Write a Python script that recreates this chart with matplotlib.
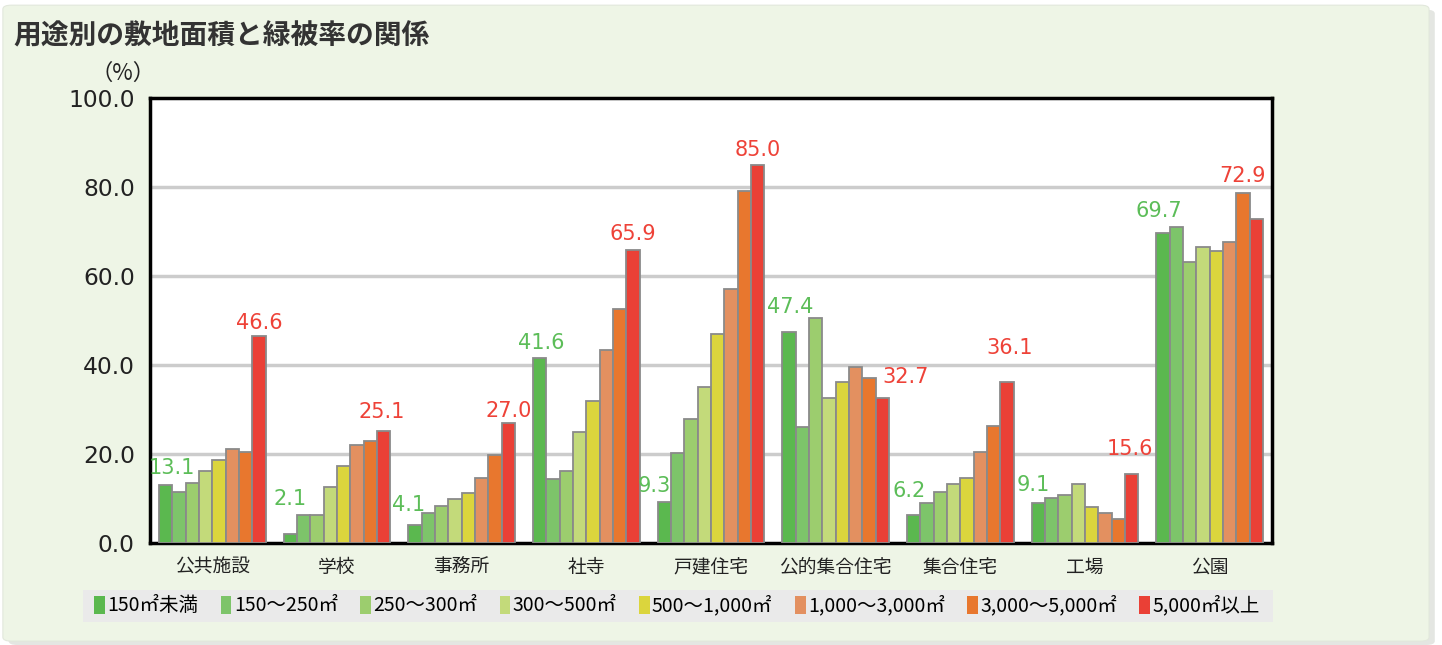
import matplotlib
matplotlib.use("Agg")
import matplotlib.pyplot as plt
from matplotlib.patches import FancyBboxPatch, Rectangle
import numpy as np

plt.rcParams['font.family'] = ['Noto Sans CJK JP', 'DejaVu Sans']
NUM_FONT = ['DejaVu Sans']

title = "用途別の敷地面積と緑被率の関係"
categories = ["公共施設", "学校", "事務所", "社寺", "戸建住宅", "公的集合住宅", "集合住宅", "工場", "公園"]
series_names = ["150㎡未満", "150～250㎡", "250～300㎡", "300～500㎡",
                "500～1,000㎡", "1,000～3,000㎡", "3,000～5,000㎡", "5,000㎡以上"]

# green coverage (%) per site-area class, one list per class
s_lt150     = [13.1, 2.1, 4.1, 41.6, 9.3, 47.4, 6.2, 9.1, 69.7]
s_150_250   = [11.5, 6.3, 6.7, 14.3, 20.2, 26.1, 9.1, 10.1, 71.1]
s_250_300   = [13.6, 6.3, 8.4, 16.3, 27.8, 50.6, 11.5, 10.8, 63.1]
s_300_500   = [16.3, 12.5, 9.8, 25.0, 35.1, 32.7, 13.3, 13.3, 66.6]
s_500_1000  = [18.7, 17.4, 11.2, 32.0, 46.9, 36.1, 14.6, 8.0, 65.6]
s_1000_3000 = [21.1, 22.0, 14.6, 43.4, 57.2, 39.6, 20.5, 6.7, 67.6]
s_3000_5000 = [20.4, 23.0, 19.9, 52.7, 79.1, 37.2, 26.4, 5.5, 78.7]
s_ge5000    = [46.6, 25.1, 27.0, 65.9, 85.0, 32.7, 36.1, 15.6, 72.9]

series = [s_lt150, s_150_250, s_250_300, s_300_500,
          s_500_1000, s_1000_3000, s_3000_5000, s_ge5000]
colors = ["#5BB84F", "#7DC46A", "#9CCD6E", "#C3DA7A",
          "#DBD53D", "#E39060", "#E8772E", "#EA4036"]

yticks = [0, 20, 40, 60, 80, 100]

# label placement (x offset in group units, baseline offset above bar in %)
green_dx = [0.052, 0.0, -0.054, 0.01, -0.08, 0.01, -0.034, -0.04, -0.03]
green_dy = [2.4, 6.4, 3.1, 1.9, 2.2, 4.2, 4.1, 2.6, 3.6]
red_dx = [0.0, -0.012, 0.0, 0.0, 0.0, 0.19, 0.024, -0.016, -0.11]
red_dy = [1.6, 2.9, 1.35, 2.2, 2.0, 3.2, 6.3, 4.1, 8.2]

fig = plt.figure(figsize=(14.42, 6.45), dpi=100)
fig.patch.set_facecolor("white")

# background panel with soft shadow
fig.patches.append(FancyBboxPatch((0.006, 0.0), 0.989, 0.985, boxstyle="round,pad=0,rounding_size=0.006",
                                  transform=fig.transFigure, facecolor="#E4E6E2", edgecolor="none", zorder=-11))
fig.patches.append(FancyBboxPatch((0.002, 0.006), 0.989, 0.986, boxstyle="round,pad=0,rounding_size=0.006",
                                  transform=fig.transFigure, facecolor="#EEF5E6", edgecolor="#E2E8DC",
                                  linewidth=0.8, zorder=-10))

fig.text(0.009, 0.944, title, fontsize=20, fontweight="bold", color="#333333", va="center", ha="left")

ax = fig.add_axes([0.104, 0.158, 0.778, 0.690])
ax.set_facecolor("white")

n = len(series)
x = np.arange(len(categories))
w = 0.107
for i, (vals, c) in enumerate(zip(series, colors)):
    ax.bar(x + (i - (n - 1) / 2) * w, vals, width=w, color=c, edgecolor="#8A8A8A",
           linewidth=1.3, zorder=3)

for j in range(len(categories)):
    xf = x[j] + (0 - (n - 1) / 2) * w
    ax.text(xf + green_dx[j], s_lt150[j] + green_dy[j], f"{s_lt150[j]:.1f}", color="#5CBD58",
            fontsize=15, family=NUM_FONT, ha="center", va="baseline", zorder=4)
    xl = x[j] + ((n - 1) / 2) * w
    ax.text(xl + red_dx[j], s_ge5000[j] + red_dy[j], f"{s_ge5000[j]:.1f}", color="#EE4238",
            fontsize=15, family=NUM_FONT, ha="center", va="baseline", zorder=4)

ax.set_xlim(-0.5, len(categories) - 0.5)
ax.set_ylim(0, 100)
ax.set_yticks(yticks)
ax.set_yticklabels([f"{v:.1f}" for v in yticks], fontsize=16.8, family=NUM_FONT, color="#222222")
ax.set_xticks(x)
ax.set_xticklabels(categories, fontsize=13.5, color="#222222")
ax.tick_params(axis="x", length=0, pad=10)
ax.tick_params(axis="y", length=0, pad=11)
for v in yticks[1:-1]:
    ax.axhline(v, color="#CCCCCC", linewidth=2.5, zorder=1)
for sp in ax.spines.values():
    sp.set_color("black")
    sp.set_linewidth(2.5)

fig.text(0.085, 0.886, "（%）", fontsize=16, ha="center", va="center", color="#222222")

# legend strip
fig.patches.append(Rectangle((0.0575, 0.036), 0.825, 0.049, transform=fig.transFigure,
                             facecolor="#EAEAEA", edgecolor="none", zorder=-5))
handles = [Rectangle((0, 0), 1, 1, facecolor=c, edgecolor="none") for c in colors]
fig.legend(handles, series_names, loc="center", bbox_to_anchor=(0.4695, 0.0605), ncol=8,
           frameon=False, fontsize=14, handlelength=0.55, handleheight=1.0,
           handletextpad=0.12, columnspacing=1.15, borderaxespad=0)

fig.savefig("out.png", dpi=100, facecolor=fig.get_facecolor())
